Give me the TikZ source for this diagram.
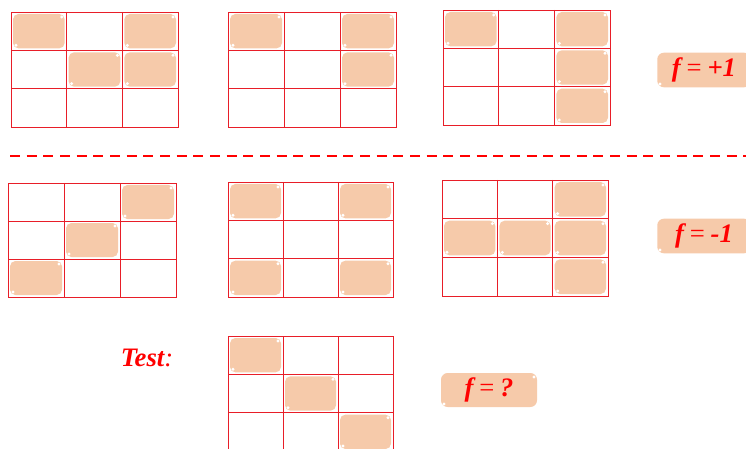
\documentclass[tikz,border=0pt]{standalone}
\usepackage{fontspec}
\setmainfont{Liberation Serif}
\begin{document}
\begin{tikzpicture}[x=0.75pt,y=-0.75pt,
  gridline/.style={draw=gridred, line width=0.7pt},
  cellfill/.style={fill=peach, rounded corners=4pt},
  glint/.style={fill=white},
  labelbox/.style={fill=peach, rounded corners=5pt, text=red, font=\fontsize{20}{22}\selectfont\bfseries\itshape, inner sep=0pt, minimum height=26pt},
  sepline/.style={draw=red, line width=1.6pt, dash pattern=on 7.5pt off 5pt}]
\definecolor{peach}{RGB}{246,202,170}
\definecolor{gridred}{RGB}{232,30,40}
\clip (0,0) rectangle (746,449);
\newcommand{\drawgrid}[5]{%
  \pgfmathsetmacro{\cw}{(#3-#1)/3}%
  \pgfmathsetmacro{\ch}{(#4-#2)/3}%
  \foreach \r/\c in {#5} {%
    \fill[cellfill] ({#1+\c*\cw+2},{#2+\r*\ch+2}) rectangle ({#1+(\c+1)*\cw-2},{#2+(\r+1)*\ch-2});
    \fill[glint] ({#1+(\c+1)*\cw-5},{#2+\r*\ch+5}) circle (1.2pt);
    \fill[glint] ({#1+\c*\cw+5},{#2+(\r+1)*\ch-5}) circle (1.2pt);
  }%
  \draw[gridline] (#1,#2) rectangle (#3,#4);
  \draw[gridline] ({#1+\cw},#2) -- ({#1+\cw},#4);
  \draw[gridline] ({#1+2*\cw},#2) -- ({#1+2*\cw},#4);
  \draw[gridline] (#1,{#2+\ch}) -- (#3,{#2+\ch});
  \draw[gridline] (#1,{#2+2*\ch}) -- (#3,{#2+2*\ch});
}
\newcommand{\feq}{f\hspace{0.22em}{\mdseries\upshape =}\hspace{0.22em}}
% row 1 (f = +1)
\drawgrid{11}{12}{178}{127}{0/0,0/2,1/1,1/2}
\drawgrid{228}{12}{396}{127}{0/0,0/2,1/2}
\drawgrid{443}{10}{610}{125}{0/0,0/2,1/2,2/2}
% separator
\coordinate (sepL) at (10,156);
\coordinate (sepR) at (746,156);
\draw[sepline] (sepL) -- (sepR);
% row 2 (f = -1)
\drawgrid{8}{183}{176}{297}{0/2,1/1,2/0}
\drawgrid{228}{182}{393}{297}{0/0,0/2,2/0,2/2}
\drawgrid{442}{180}{608}{296}{0/2,1/0,1/1,1/2,2/2}
% test
\drawgrid{228}{336}{393}{451}{0/0,1/1,2/2}
% labels
\node[labelbox, anchor=west, minimum width=70pt] (fp) at (657,70) {\feq+1};
\node[labelbox, anchor=west, minimum width=70pt] (fm) at (657,236) {\feq-1};
\node[labelbox, minimum width=72pt, minimum height=25.5pt] (fq) at (489,390) {\feq?};
\fill[glint] (660,84) circle (1.2pt);
\fill[glint] (660,250) circle (1.2pt);
\fill[glint] (444,404) circle (1.2pt);
\fill[glint] (534,377) circle (1.2pt);
\node[text=red, font=\fontsize{20}{22}\selectfont\itshape] (test) at (147,358) {\textbf{Test}:};
\end{tikzpicture}
\end{document}
